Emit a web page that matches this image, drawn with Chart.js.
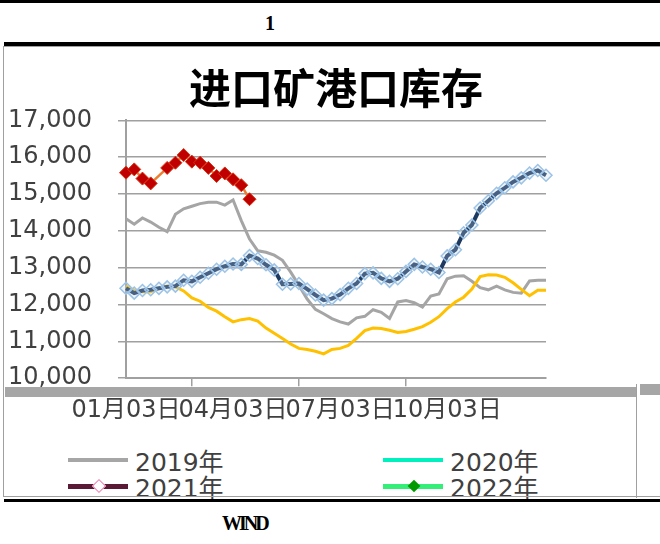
<!DOCTYPE html>
<html>
<head>
<meta charset="utf-8">
<script src="https://cdn.jsdelivr.net/npm/chart.js@4.4.0/dist/chart.umd.min.js"></script>
<style>
  body { margin: 0; width: 660px; height: 544px; position: relative; background: #fff; overflow: hidden;
         font-family: "DejaVu Sans", "Noto Sans CJK SC", sans-serif; }
  .abs { position: absolute; }
  #chartWrap { left: 4px; top: 48px; width: 634px; height: 392px; }
  .leg { position: absolute; height: 28px; display: flex; align-items: center; font-size: 25px; color: #404040; }
  .sample { position: relative; width: 60px; margin-right: 7px; }
  .dia { position: absolute; top: 50%; width: 8px; height: 8px; transform: translate(-50%, -50%) rotate(45deg); }
</style>
</head>
<body>
<div class="abs" style="left:0;top:0;width:660px;height:3px;background:#000"></div>
<div class="abs" style="left:265px;top:12px;font:bold 20px 'Liberation Serif',serif">1</div>
<div class="abs" style="left:4px;top:42px;width:656px;height:4px;background:#000"></div>
<div class="abs" style="left:3px;top:46px;width:1px;height:451px;background:#a0a0a0"></div>
<div class="abs" style="left:3px;top:46px;width:657px;height:1px;background:#a0a0a0"></div>

<!-- broken strip under the axis, behind the tick labels -->
<div class="abs" style="left:5px;top:387px;width:631px;height:10px;background:#a6a6a6"></div>
<div class="abs" style="left:640px;top:384px;width:20px;height:11px;background:#a6a6a6"></div>
<div class="abs" style="left:636px;top:384px;width:1px;height:114px;background:#a0a0a0"></div>

<div id="chartWrap" class="abs"><canvas id="LineChart"></canvas></div>

<div class="leg" style="left:68px;top:446px">
  <div class="sample" style="height:4px;background:#a6a6a6"></div>2019年</div>
<div class="leg" style="left:383px;top:446px">
  <div class="sample" style="height:4px;background:#00f0c0"></div>2020年</div>
<div class="leg" style="left:68px;top:472px">
  <div class="sample" style="height:5px;background:#5a1a35"><div class="dia" style="left:31px;background:#fff;border:1.5px solid #f07ab0"></div></div>2021年</div>
<div class="leg" style="left:383px;top:472px">
  <div class="sample" style="height:5px;background:#33ee77"><div class="dia" style="left:31px;width:9px;height:9px;background:#009a00"></div></div>2022年</div>

<div class="abs" style="left:4px;top:496px;width:656px;height:1px;background:#a0a0a0"></div>
<div class="abs" style="left:4px;top:499px;width:656px;height:3px;background:#000"></div>
<div class="abs" style="left:222px;top:512px;font:bold 20px 'Liberation Serif',serif;letter-spacing:-3px">WIND</div>

<script>
// weekly categories
const weeks = [
  "01月03日", "01月10日", "01月17日", "01月24日", "01月31日",
  "02月07日", "02月14日", "02月21日", "02月28日",
  "03月07日", "03月14日", "03月21日", "03月28日",
  "04月04日", "04月11日", "04月18日", "04月25日",
  "05月02日", "05月09日", "05月16日", "05月23日", "05月30日",
  "06月06日", "06月13日", "06月20日", "06月27日",
  "07月04日", "07月11日", "07月18日", "07月25日",
  "08月01日", "08月08日", "08月15日", "08月22日", "08月29日",
  "09月05日", "09月12日", "09月19日", "09月26日",
  "10月03日", "10月10日", "10月17日", "10月24日", "10月31日",
  "11月07日", "11月14日", "11月21日", "11月28日",
  "12月05日", "12月12日", "12月19日", "12月26日"
];
const tickLabels = ["01月03日", "04月03日", "07月03日", "10月03日"];

const y2019 = [14330, 14180, 14350, 14240, 14100, 13980, 14450, 14600, 14670, 14740,
  14780, 14780, 14700, 14840, 14280, 13780, 13460, 13420, 13340, 13200,
  12880, 12520, 12150, 11870, 11750, 11620, 11530, 11470, 11640, 11680,
  11860, 11790, 11620, 12070, 12110, 12050, 11930, 12230, 12290, 12700,
  12770, 12780, 12630, 12460, 12400, 12500, 12400, 12330, 12310, 12640,
  12660, 12660];
const y2020 = [12505, 12380, 12350, 12350, 12440, 12505, 12480, 12370, 12180, 12090,
  11920, 11820, 11670, 11530, 11590, 11620, 11550, 11360, 11220, 11080,
  10930, 10810, 10780, 10730, 10660, 10780, 10810, 10890, 11080, 11290,
  11360, 11350, 11300, 11240, 11270, 11330, 11400, 11520, 11670, 11890,
  12070, 12200, 12420, 12760, 12810, 12800, 12740, 12590, 12410, 12240,
  12390, 12390];
const y2021 = [12440, 12310, 12380, 12400, 12440, 12480, 12500, 12660, 12630, 12740,
  12850, 12960, 13040, 13100, 13090, 13330, 13250, 13080, 12940, 12550,
  12560, 12570, 12420, 12260, 12120, 12160, 12270, 12440, 12570, 12840,
  12860, 12710, 12630, 12700, 12900, 13090, 13020, 12960, 12870, 13320,
  13490, 13950, 14160, 14620, 14820, 15020, 15170, 15330, 15440, 15570,
  15640, 15510];
const y2022 = [15580, 15670, 15420, 15290, null, 15710, 15850, 16060, 15880, 15850,
  15710, 15490, 15560, 15400, 15240, 14860];

const axisGrey = "#a0a0a0";
const textGrey = "#404040";
const fontFamily = '"DejaVu Sans", "Noto Sans CJK SC", sans-serif';

const data = {
  labels: weeks,
  datasets: [
    {
      label: "2019年",
      data: y2019,
      borderColor: "#a5a5a5",
      borderWidth: 3,
      pointRadius: 0,
      order: 3,
    },
    {
      label: "2020年",
      data: y2020,
      borderColor: "#ffc000",
      borderWidth: 3,
      pointRadius: 0,
      order: 2,
    },
    {
      label: "2021年",
      data: y2021,
      borderColor: "#1f3a60",
      borderWidth: 4,
      pointStyle: "rectRot",
      pointRadius: 6,
      pointBorderWidth: 1.5,
      pointBorderColor: "#9dc3e6",
      pointBackgroundColor: "rgba(189,215,238,0.25)",
      order: 1,
    },
    {
      label: "2022年",
      data: y2022,
      borderColor: "#ed7d31",
      borderWidth: 2.5,
      spanGaps: true,
      pointStyle: "rectRot",
      pointRadius: 6.5,
      pointBorderWidth: 1,
      pointBorderColor: "#d83010",
      pointBackgroundColor: "#c00000",
      order: 0,
    },
  ],
};

// config
const config = {
  type: "line",
  data,
  options: {
    responsive: true,
    maintainAspectRatio: false,
    animation: false,
    elements: { line: { tension: 0 } },
    layout: { padding: { left: 4, right: 92, top: 0, bottom: 5 } },
    plugins: {
      legend: { display: false },
      tooltip: { enabled: false },
      title: {
        display: true,
        fullSize: false,
        text: "进口矿港口库存",
        color: "#000",
        font: { size: 42, weight: "bold", family: '"Noto Sans CJK SC", sans-serif' },
        padding: { top: 15, bottom: 7 },
      },
    },
    scales: {
      x: {
        grid: {
          drawOnChartArea: false,
          tickLength: 8,
          lineWidth: 1.5,
          color: (ctx) => ([8, 21, 34].includes(ctx.index) ? axisGrey : "transparent"),
        },
        border: { color: axisGrey, width: 2 },
        ticks: {
          autoSkip: false,
          maxRotation: 0,
          padding: 10,
          color: textGrey,
          font: { size: 24, family: fontFamily },
          callback: (v, i) => (i % 13 === 0 ? tickLabels[i / 13] : ""),
        },
      },
      y: {
        min: 10000,
        max: 17000,
        afterFit: (scale) => { scale.width = 118; },
        grid: { color: axisGrey, lineWidth: 1.5, tickLength: 8 },
        border: { color: axisGrey, width: 2 },
        ticks: {
          stepSize: 1000,
          padding: 26,
          color: textGrey,
          font: { size: 24, family: fontFamily },
        },
      },
    },
  },
};

// render init block
const LineChart = new Chart(document.getElementById("LineChart"), config);
</script>
</body>
</html>
